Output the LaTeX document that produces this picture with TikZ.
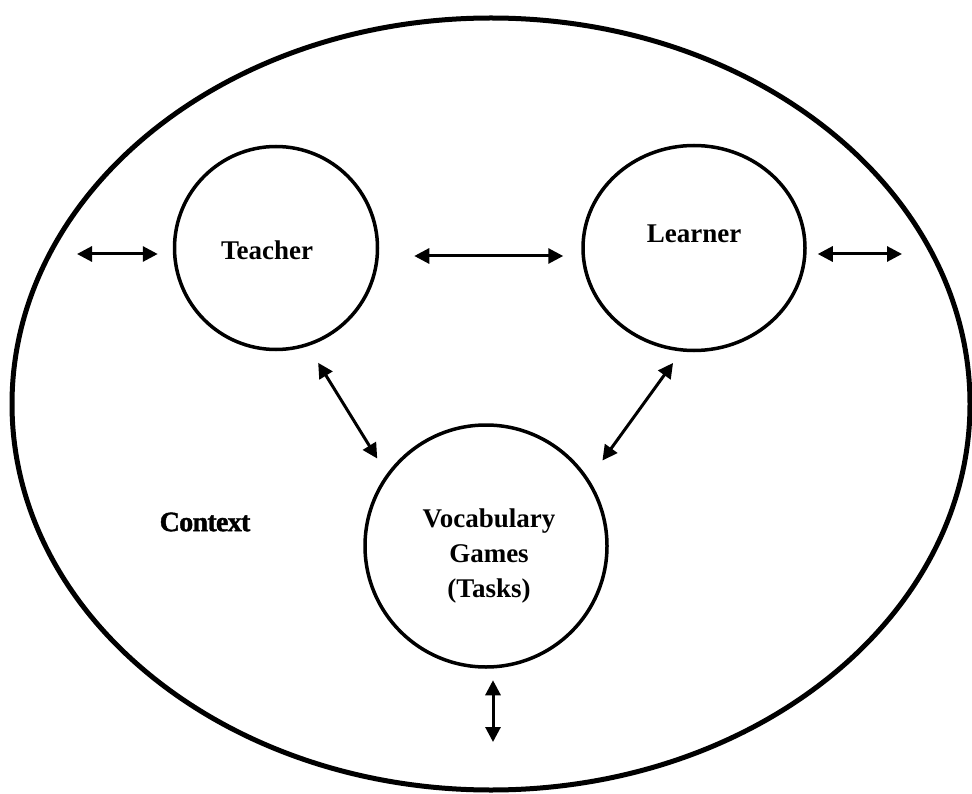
\documentclass[tikz,border=0pt]{standalone}
\usepackage{fontspec}
\setmainfont{Liberation Serif}
\newfontface\ctxfont[FakeBold=1.5,LetterSpace=-2.5]{Liberation Serif Bold}
\usetikzlibrary{arrows.meta,shapes.geometric}
\begin{document}
\begin{tikzpicture}[x=1pt,y=-1pt,
  party/.style={draw,line width=3.5pt,circle,inner sep=0pt},
  biarrow/.style={line width=3pt,
    {Triangle[length=15pt,width=15pt]}-{Triangle[length=15pt,width=15pt]}},
  tag/.style={font=\fontsize{27}{35}\selectfont\bfseries,align=center}]
\useasboundingbox (0,0) rectangle (972,794);

% surrounding context
\node[draw,ellipse,line width=5pt,minimum width=958pt,minimum height=772pt,
  inner sep=0pt] (context) at (491,404) {};
\node[font=\ctxfont\fontsize{28}{32}\selectfont] (ctxlabel) at (205,522) {Context};

% the three participants
\node[party,minimum size=203pt,
  label={[tag,xshift=-9pt,yshift=-2pt]center:Teacher}] (teacher) at (276,248) {};
\node[party,ellipse,minimum width=222pt,minimum height=205pt,
  label={[tag,yshift=14pt]center:Learner}] (learner) at (694,248) {};
\node[party,minimum size=242pt,
  label={[tag,xshift=3pt,yshift=-10pt]center:Vocabulary\\Games\\(Tasks)}] (vocab) at (486,546) {};

% free ends of the outward links
\coordinate (outleft) at (77,254);
\coordinate (outright) at (902,254);
\coordinate (outdown) at (493,742);

% links
\draw[biarrow,shorten >=15pt] (outleft) -- ([yshift=-6pt]teacher.west);
\draw[biarrow,shorten <=35pt,shorten >=18pt]
  ([yshift=-8pt]teacher.east) -- ([yshift=-8pt]learner.west);
\draw[biarrow,shorten <=11pt] ([yshift=-6pt]learner.east) -- (outright);
\draw[biarrow,shorten <=19.5pt,shorten >=18pt] (teacher.-72.8) -- (vocab.144.9);
\draw[biarrow,shorten <=14pt,shorten >=23pt] (learner.-97.4) -- (vocab.33);
\draw[biarrow,shorten <=11.5pt] ([xshift=7pt]vocab.south) -- (outdown);
\end{tikzpicture}
\end{document}
